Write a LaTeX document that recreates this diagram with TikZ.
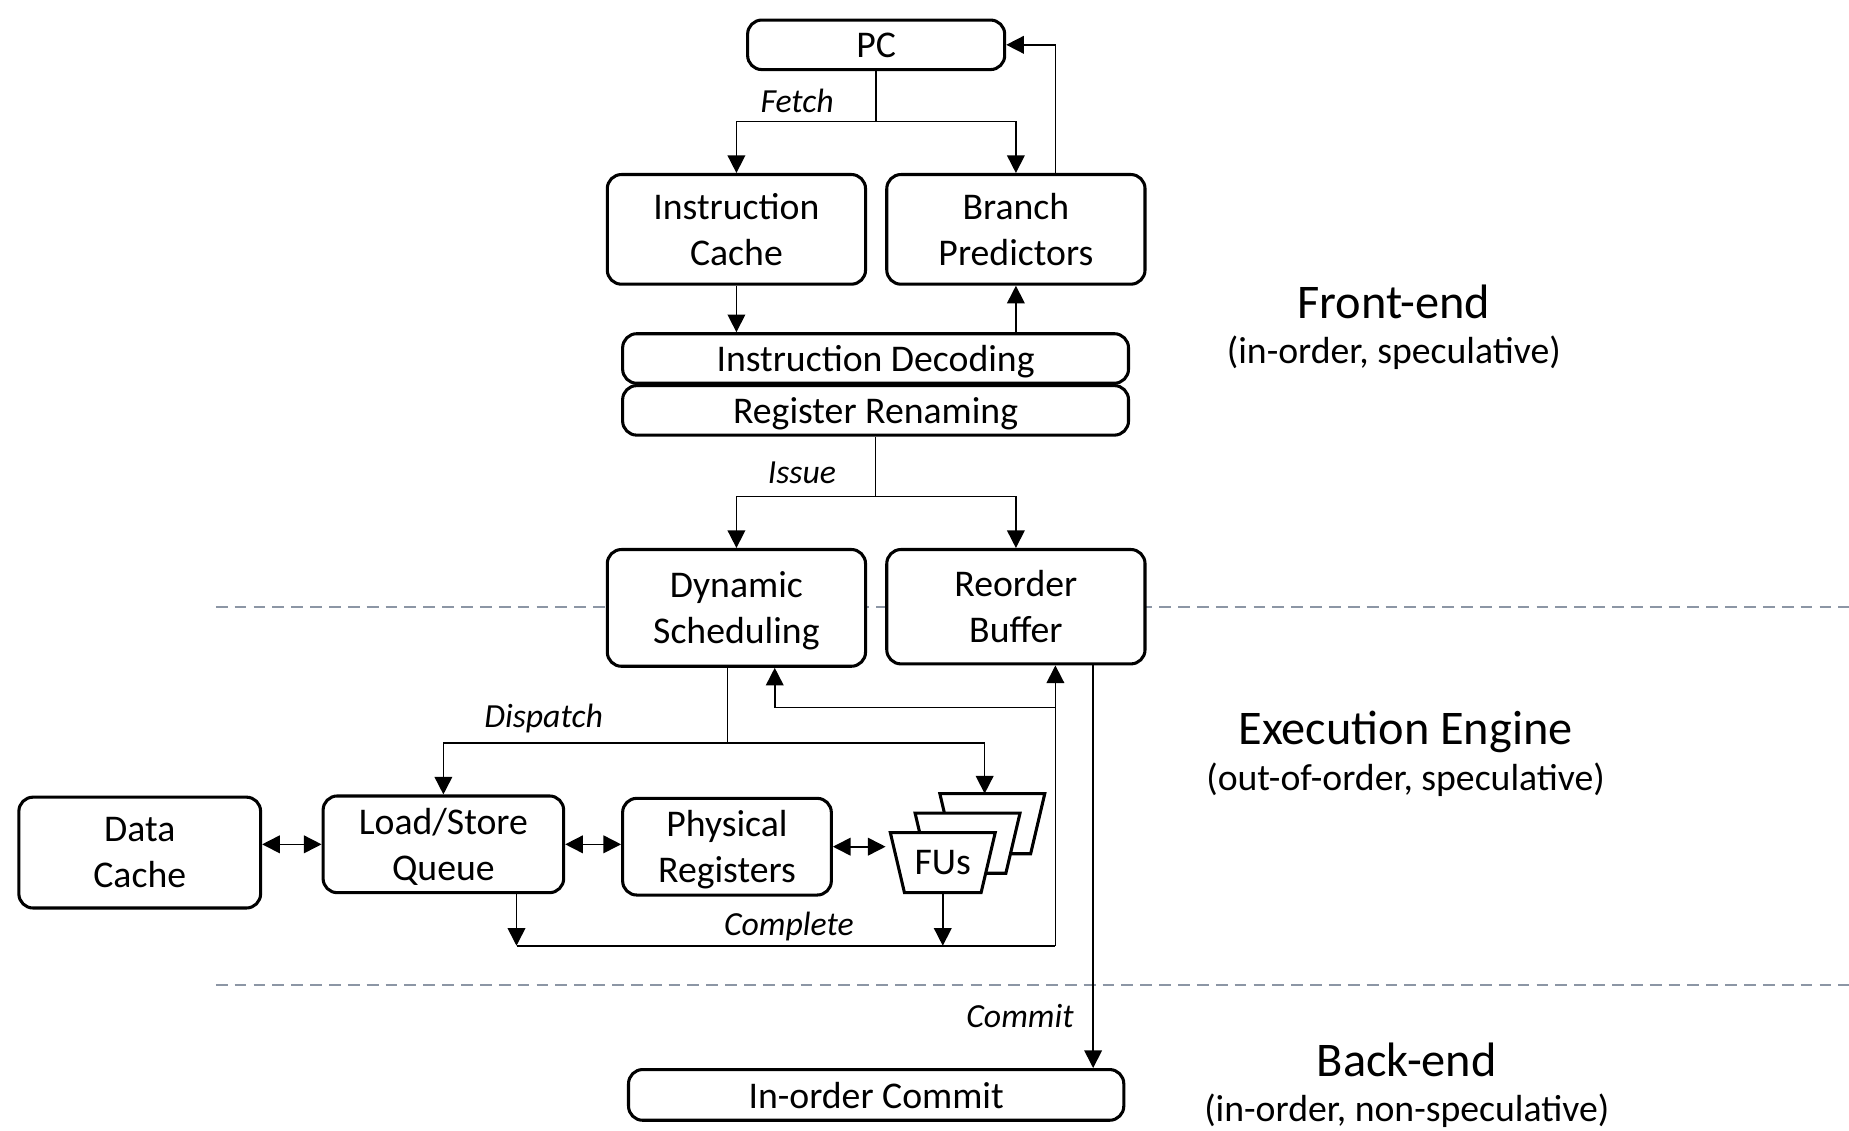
\documentclass[tikz,border=0pt]{standalone}
\usepackage{fontspec}
\setmainfont{Carlito}
\usetikzlibrary{arrows.meta,calc}
\definecolor{sepgray}{RGB}{140,150,165}

\begin{document}
\begin{tikzpicture}[x=0.5pt,y=-0.5pt,
  blk/.style={draw, line width=1.3pt, rounded corners=6pt, fill=white, align=center,
    inner sep=0pt, text depth=0pt, font=\fontsize{16}{19.5}\selectfont},
  link/.style={line width=0.7pt},
  tip/.style={Triangle[length=7.5pt,width=7.5pt]},
  arr/.style={link, -{Triangle[length=7.5pt,width=7.5pt]}},
  dbl/.style={link, {Triangle[length=7.5pt,width=7.5pt]}-{Triangle[length=7.5pt,width=7.5pt]}},
  lbl/.style={font=\fontsize{14.3}{17}\selectfont\itshape, inner sep=0pt, anchor=base},
  stage/.style={font=\fontsize{20.5}{24}\selectfont, inner sep=0pt, anchor=base},
  note/.style={font=\fontsize{16}{19}\selectfont, inner sep=0pt, anchor=base},
  sep/.style={line width=0.9pt, draw=sepgray, dash pattern=on 5pt off 3pt},
  fu/.style={draw, line width=1.3pt, fill=white, line join=miter}
]
\useasboundingbox (0,0) rectangle (1568,959);

% stage separators
\coordinate (s1a) at (183,515); \coordinate (s1b) at (1568,515);
\coordinate (s2a) at (183,835); \coordinate (s2b) at (1568,835);
\draw[sep] (s1a) -- (s1b);
\draw[sep] (s2a) -- (s2b);

% blocks
\node[blk, minimum width=109pt,   minimum height=21pt]   (pc)     at (743,38)      {PC};
\node[blk, minimum width=109.5pt, minimum height=46.5pt] (icache) at (624.5,194.5) {Instruction\\Cache};
\node[blk, minimum width=109.5pt, minimum height=46.5pt] (bpred)  at (861.5,194.5) {Branch\\Predictors};
\node[blk, minimum width=214.5pt, minimum height=21pt]   (decode) at (742.5,304)   {Instruction Decoding};
\node[blk, minimum width=214.5pt, minimum height=21pt]   (rename) at (742.5,348)   {Register Renaming};
\node[blk, minimum width=109.5pt, minimum height=49.5pt] (dsched) at (624.5,515.5) {Dynamic\\Scheduling};
\node[blk, minimum width=109.5pt, minimum height=48.5pt] (rob)    at (861.5,514.5) {Reorder\\Buffer};
\node[blk, minimum width=102.5pt, minimum height=47pt]   (dcache) at (118.5,723)   {Data\\Cache};
\node[blk, minimum width=102pt,   minimum height=41pt]   (lsq)    at (376,716)     {Load/Store\\Queue};
\node[blk, minimum width=88.5pt,  minimum height=41pt]   (preg)   at (616.5,718)   {Physical\\Registers};
\node[blk, minimum width=210pt,   minimum height=21.5pt] (commit) at (743,928.5)   {In-order Commit};

% stacked functional units
\coordinate (f1) at (799.5,731.5);
\foreach \dx/\dy in {42/-33, 21/-16.5, 0/0} {
  \draw[fu] ($(f1)+(\dx-44.5,\dy-25.5)$) -- ++(89,0) -- ++(-12,51) -- ++(-65,0) -- cycle;
}
\node[inner sep=0pt, minimum height=25.5pt, font=\fontsize{16}{19.5}\selectfont] (fus) at (f1) {FUs};

% fetch
\coordinate (fj) at (743,103);
\draw[link] (pc.south) -- (fj);
\draw[arr] (fj) -| (icache.north);
\draw[arr] (fj) -| (bpred.north);
\coordinate (bpo) at (895,0);
\draw[arr] (bpred.north -| bpo) |- (pc.east);
\draw[arr] (icache.south) -- (icache.south |- decode.north);
\draw[arr] (decode.north -| bpred.south) -- (bpred.south);

% issue
\coordinate (ij) at (742.5,421);
\draw[link] (rename.south) -- (ij);
\draw[arr] (ij) -| (dsched.north);
\draw[arr] (ij) -| (rob.north);

% dispatch
\coordinate (dj) at (617,630);
\draw[link] (dsched.south -| dj) -- (dj);
\draw[arr] (dj) -| (lsq.north);
\coordinate (fu3in) at (835,673);
\draw[arr] (dj) -| (fu3in);

% complete
\coordinate (cL) at (438,802);
\coordinate (cR) at (895,802);
\draw[arr] (lsq.south -| cL) -- (cL);
\draw[arr] (fus.south) -- (fus.south |- cL);
\draw[link] (cL) -- (cR);
\draw[arr] (cR) -- (rob.south -| cR);
\coordinate (rj) at (895,600);
\coordinate (dsin) at (657,600);
\draw[arr] (rj) -- (dsin) -- (dsched.south -| dsin);

% commit
\coordinate (cm) at (927,0);
\draw[arr] (rob.south -| cm) -- (commit.north -| cm);

% operand paths
\draw[dbl] (dcache.east |- lsq.west) -- (lsq.west);
\draw[dbl] (lsq.east) -- (preg.west |- lsq.east);
\coordinate (fuin) at (751,0);
\draw[dbl] (preg.east) -- (preg.east -| fuin);

% edge labels
\node[lbl] (lfetch)  at (676,95)  {Fetch};
\node[lbl] (lissue)  at (680,410) {Issue};
\node[lbl] (ldisp)   at (461,617) {Dispatch};
\node[lbl] (lcomp)   at (669,793) {Complete};
\node[lbl] (lcommit) at (865,871) {Commit};

% stage names
\node[stage] (fe)  at (1182,270) {Front-end};
\node[note]  (fen) at (1182,308) {(in-order, speculative)};
\node[stage] (ee)  at (1192,631) {Execution Engine};
\node[note]  (een) at (1192,670) {(out-of-order, speculative)};
\node[stage] (be)  at (1193,913) {Back-end};
\node[note]  (ben) at (1193,951) {(in-order, non-speculative)};
\end{tikzpicture}
\end{document}
